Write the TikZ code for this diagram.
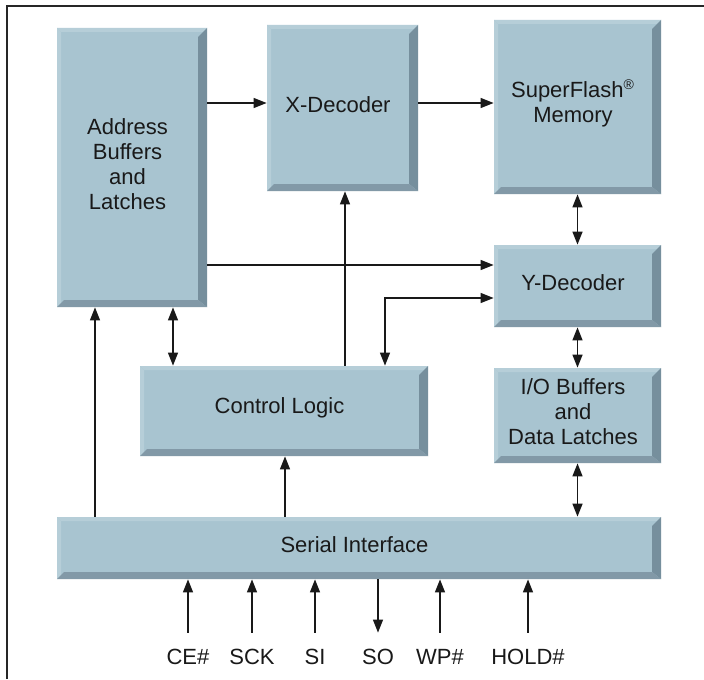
\documentclass[tikz,border=0pt]{standalone}
\usepackage{fontspec}
\setmainfont{Liberation Sans}
\usetikzlibrary{arrows.meta,calc}
\definecolor{face}{RGB}{168,196,208}
\definecolor{bevR}{RGB}{118,143,157}
\definecolor{bevB}{RGB}{130,153,167}
\definecolor{bevT}{RGB}{182,206,216}
\definecolor{ink}{RGB}{25,25,25}
\tikzset{
  blk/.style={fill=face, inner sep=0pt, path picture={
    \fill[bevT] (path picture bounding box.north west) -- (path picture bounding box.north east)
      -- ([shift={(-2pt,-2pt)}]path picture bounding box.north east)
      -- ([shift={(2pt,-2pt)}]path picture bounding box.north west) -- cycle;
    \fill[bevT] (path picture bounding box.north west) -- (path picture bounding box.south west)
      -- ([shift={(2pt,2pt)}]path picture bounding box.south west)
      -- ([shift={(2pt,-2pt)}]path picture bounding box.north west) -- cycle;
    \fill[bevR] (path picture bounding box.north east) -- (path picture bounding box.south east)
      -- ([shift={(-4.5pt,3.5pt)}]path picture bounding box.south east)
      -- ([shift={(-4.5pt,-4.5pt)}]path picture bounding box.north east) -- cycle;
    \fill[bevB] (path picture bounding box.south west) -- (path picture bounding box.south east)
      -- ([shift={(-4.5pt,3.5pt)}]path picture bounding box.south east)
      -- ([shift={(3.5pt,3.5pt)}]path picture bounding box.south west) -- cycle;
  }},
  lbl/.style={align=center, font=\fontsize{11}{12.5}\selectfont, text=ink, inner sep=0pt},
  arr/.style={line width=0.7pt, draw=ink, -{Triangle[length=6.5pt,width=5pt]}},
  darr/.style={line width=0.7pt, draw=ink, {Triangle[length=6.5pt,width=5pt]}-{Triangle[length=6.5pt,width=5pt]}},
  pinlbl/.style={font=\fontsize{11}{12}\selectfont, text=ink, inner sep=0pt, text height=8pt, text depth=0pt},
  frameline/.style={line width=1pt, draw=black!85},
}
\newcommand\mkbox[6]{%
  \pgfmathsetmacro\mkw{(#4-#2)*0.5}%
  \pgfmathsetmacro\mkh{(#5-#3)*0.5}%
  \node[blk, minimum width=\mkw pt, minimum height=\mkh pt] (#1) at ({(#2+#4)/2},{(#3+#5)/2}) {};
  \node[lbl] (#1T) at ($(#1.center)+(-4.5,-3.5)$) {#6};
}
\begin{document}
\begin{tikzpicture}[x=0.5pt,y=-0.5pt]
\useasboundingbox (0,0) rectangle (704,679);
\fill[white] (0,0) rectangle (704,679);
\draw[frameline] (7,679) -- (7,6) -- (704,6);

\mkbox{addr}{57}{28}{207}{307}{Address\\Buffers\\and\\Latches}
\mkbox{xdec}{267}{25}{418}{191}{X-Decoder}
\mkbox{sf}{494}{20}{661}{194}{SuperFlash\textsuperscript{\fontsize{7}{7}\selectfont ®}\\Memory}
\mkbox{ydec}{494}{245}{661}{327}{Y-Decoder}
\mkbox{io}{494}{368}{661}{463}{I/O Buffers\\and\\Data Latches}
\mkbox{ctrl}{140}{366}{428}{456}{Control Logic}
\mkbox{ser}{57}{517}{661}{579}{Serial Interface}

\coordinate (h1) at (0,103);
\coordinate (h2) at (0,265);
\coordinate (h3) at (0,298);
\coordinate (v95) at (95,0);
\coordinate (v173) at (173,0);
\coordinate (v285) at (285,0);
\coordinate (v345) at (345,0);
\coordinate (j) at (385,298);

\draw[arr] (addr.east |- h1) -- (xdec.west |- h1);
\draw[arr] (xdec.east |- h1) -- (sf.west |- h1);
\draw[darr] (sf.south) -- (ydec.north);
\draw[arr] (addr.east |- h2) -- (ydec.west |- h2);
\draw[arr] (ctrl.north -| v345) -- (xdec.south -| v345);
\draw[darr] (ydec.west |- h3) -- (j) -- (ctrl.north -| j);
\draw[darr] (addr.south -| v173) -- (ctrl.north -| v173);
\draw[darr] (ydec.south) -- (io.north);
\draw[darr] (io.south) -- (ser.north -| io.south);
\draw[arr] (ser.north -| v285) -- (ctrl.south -| v285);
\draw[arr] (ser.north -| v95) -- (addr.south -| v95);

\node[pinlbl] (pCE) at (188,656) {CE\#};
\node[pinlbl] (pSCK) at (252,656) {SCK};
\node[pinlbl] (pSI) at (315,656) {SI};
\node[pinlbl] (pSO) at (378,656) {SO};
\node[pinlbl] (pWP) at (440,656) {WP\#};
\node[pinlbl] (pHOLD) at (528,656) {HOLD\#};

\draw[arr, shorten <=7.5pt] (pCE.north) -- (ser.south -| pCE.north);
\draw[arr, shorten <=7.5pt] (pSCK.north) -- (ser.south -| pSCK.north);
\draw[arr, shorten <=7.5pt] (pSI.north) -- (ser.south -| pSI.north);
\draw[arr, shorten >=7.5pt] (ser.south -| pSO.north) -- (pSO.north);
\draw[arr, shorten <=7.5pt] (pWP.north) -- (ser.south -| pWP.north);
\draw[arr, shorten <=7.5pt] (pHOLD.north) -- (ser.south -| pHOLD.north);
\end{tikzpicture}
\end{document}
